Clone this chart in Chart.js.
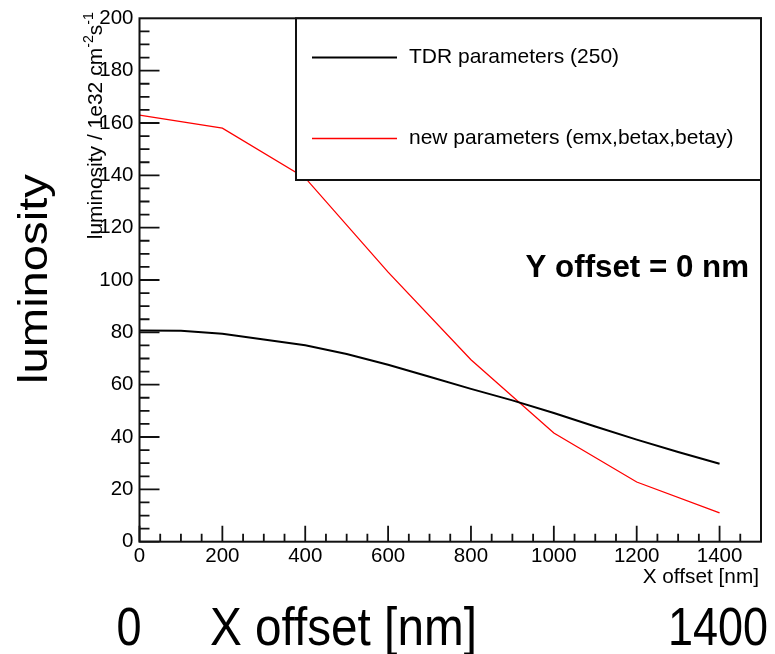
<!DOCTYPE html>
<html>
<head>
<meta charset="utf-8">
<script src="https://cdn.jsdelivr.net/npm/chart.js@4.4.1/dist/chart.umd.min.js"></script>
<style>
  html, body { margin: 0; padding: 0; background: #fff; }
  #wrap { width: 775px; height: 654px; }
</style>
</head>
<body>
<div id="wrap"><canvas id="lumiChart" width="775" height="654"></canvas></div>
<script>
// tick labels of the frame
const xTickValues = [0, 200, 400, 600, 800, 1000, 1200, 1400];
const yTickValues = [0, 20, 40, 60, 80, 100, 120, 140, 160, 180, 200];
const outerTicks = [0, 1400];

// TDR parameters (250)
const tdrOffsets = [0, 100, 200, 300, 400, 500, 600, 700, 800, 900, 1000, 1100, 1200, 1300, 1400];
const tdrLumi = [80.7, 80.6, 79.5, 77.3, 75.1, 71.7, 67.6, 63.0, 58.4, 54.0, 49.2, 44.0, 39.0, 34.3, 29.8];

// new parameters (emx,betax,betay)
const newOffsets = [0, 200, 400, 600, 800, 1000, 1200, 1400];
const newLumi = [163, 158, 139, 103, 69.5, 41.5, 22.8, 11.0];

const FONT = "'Liberation Sans', Arial, sans-serif";

function toPoints(xs, ys) {
    return xs.map((x, i) => ({ x: x, y: ys[i] }));
}

// ROOT style decorations: frame, inner ticks, legend, labels
const rootStyle = {
    id: "rootStyle",
    afterDatasetsDraw(chart) {
        const c = chart.ctx;
        const a = chart.chartArea;
        const xs = chart.scales.x;
        const ys = chart.scales.y;

        c.save();
        c.strokeStyle = "#111";
        c.lineWidth = 2;
        c.strokeRect(a.left, a.top, a.right - a.left, a.bottom - a.top);

        // ticks pointing into the frame
        c.lineWidth = 1.8;
        c.beginPath();
        for (let v = 0; v < 1500; v += 50) {
            const px = xs.getPixelForValue(v);
            const len = v % 200 === 0 ? 16 : 8;
            c.moveTo(px, a.bottom);
            c.lineTo(px, a.bottom - len);
        }
        for (let v = 0; v < 200; v += 5) {
            const py = ys.getPixelForValue(v);
            const len = v % 20 === 0 ? 20 : 10;
            c.moveTo(a.left, py);
            c.lineTo(a.left + len, py);
        }
        c.stroke();

        // legend box
        const lg = { left: 296, top: a.top, right: a.right, bottom: 180 };
        c.fillStyle = "#fff";
        c.fillRect(lg.left, lg.top, lg.right - lg.left, lg.bottom - lg.top);
        c.lineWidth = 2;
        c.strokeRect(lg.left, lg.top, lg.right - lg.left, lg.bottom - lg.top);

        const entries = chart.data.datasets;
        const rowsY = [57.5, 138.5];
        c.font = "21px " + FONT;
        c.textBaseline = "middle";
        c.textAlign = "left";
        entries.forEach((ds, i) => {
            c.strokeStyle = ds.borderColor;
            c.lineWidth = ds.borderWidth;
            c.beginPath();
            c.moveTo(312, rowsY[i]);
            c.lineTo(397, rowsY[i]);
            c.stroke();
            c.fillStyle = "#000";
            c.fillText(ds.label, 409, rowsY[i]);
        });

        // annotation
        c.font = "bold 31.3px " + FONT;
        c.textBaseline = "alphabetic";
        c.textAlign = "right";
        c.fillText("Y offset = 0 nm", 749, 277);

        // inner x title
        c.font = "20.8px " + FONT;
        c.fillText("X offset [nm]", 759, 583);

        // inner y title with superscripts
        c.save();
        c.translate(102, 12);
        c.rotate(-Math.PI / 2);
        const parts = [
            ["luminosity / 1e32 cm", false],
            ["-2", true],
            ["s", false],
            ["-1", true]
        ];
        const base = 21;
        let total = 0;
        parts.forEach(p => {
            c.font = (p[1] ? base * 0.68 : base) + "px " + FONT;
            total += c.measureText(p[0]).width;
        });
        let tx = -total;
        c.textAlign = "left";
        parts.forEach(p => {
            c.font = (p[1] ? base * 0.68 : base) + "px " + FONT;
            c.fillText(p[0], tx, p[1] ? -base * 0.45 : 0);
            tx += c.measureText(p[0]).width;
        });
        c.restore();

        // outer axis titles and end labels
        c.fillStyle = "#000";
        c.save();
        c.translate(47, 279);
        c.rotate(-Math.PI / 2);
        c.scale(1.18, 1);
        c.font = "40px " + FONT;
        c.textAlign = "center";
        c.fillText("luminosity", 0, 0);
        c.restore();

        c.save();
        c.translate(0, 645);
        c.scale(1, 1.2);
        c.font = "45px " + FONT;
        const outerLeft = 129, outerRight = 718;
        c.textAlign = "center";
        outerTicks.forEach(v => {
            const px = outerLeft + (v - outerTicks[0]) / (outerTicks[1] - outerTicks[0]) * (outerRight - outerLeft);
            c.fillText(String(v), px, 0);
        });
        c.translate(210, 0);
        c.scale(1.06, 1);
        c.textAlign = "left";
        c.fillText("X offset [nm]", 0, 0);
        c.restore();

        c.restore();
    }
};

const tickFont = { family: FONT, size: 20.5 };

const ctx = document.getElementById("lumiChart");
const chart = new Chart(ctx, {
    type: "line",
    data: {
        datasets: [{
            label: "TDR parameters (250)",
            data: toPoints(tdrOffsets, tdrLumi),
            borderColor: "#000",
            borderWidth: 2,
            pointRadius: 0,
            tension: 0
        }, {
            label: "new parameters (emx,betax,betay)",
            data: toPoints(newOffsets, newLumi),
            borderColor: "#ff0000",
            borderWidth: 1.3,
            pointRadius: 0,
            tension: 0
        }]
    },
    options: {
        responsive: false,
        animation: false,
        layout: { padding: { left: 0, top: 15, right: 14, bottom: 0 } },
        plugins: { legend: { display: false }, tooltip: { enabled: false } },
        scales: {
            x: {
                type: "linear",
                min: 0,
                max: 1500,
                grid: { display: false, drawTicks: false },
                border: { display: false },
                afterBuildTicks: s => { s.ticks = xTickValues.map(v => ({ value: v })); },
                afterFit: s => { s.height = 112.3; },
                ticks: { color: "#000", padding: 2, maxRotation: 0, autoSkip: false, font: tickFont, callback: v => String(v) }
            },
            y: {
                min: 0,
                max: 200,
                grid: { display: false, drawTicks: false },
                border: { display: false },
                afterBuildTicks: s => { s.ticks = yTickValues.map(v => ({ value: v })); },
                afterFit: s => { s.width = 139.5; },
                ticks: { color: "#000", padding: 6, autoSkip: false, font: tickFont, callback: v => String(v) }
            }
        }
    },
    plugins: [rootStyle]
});
</script>
</body>
</html>
